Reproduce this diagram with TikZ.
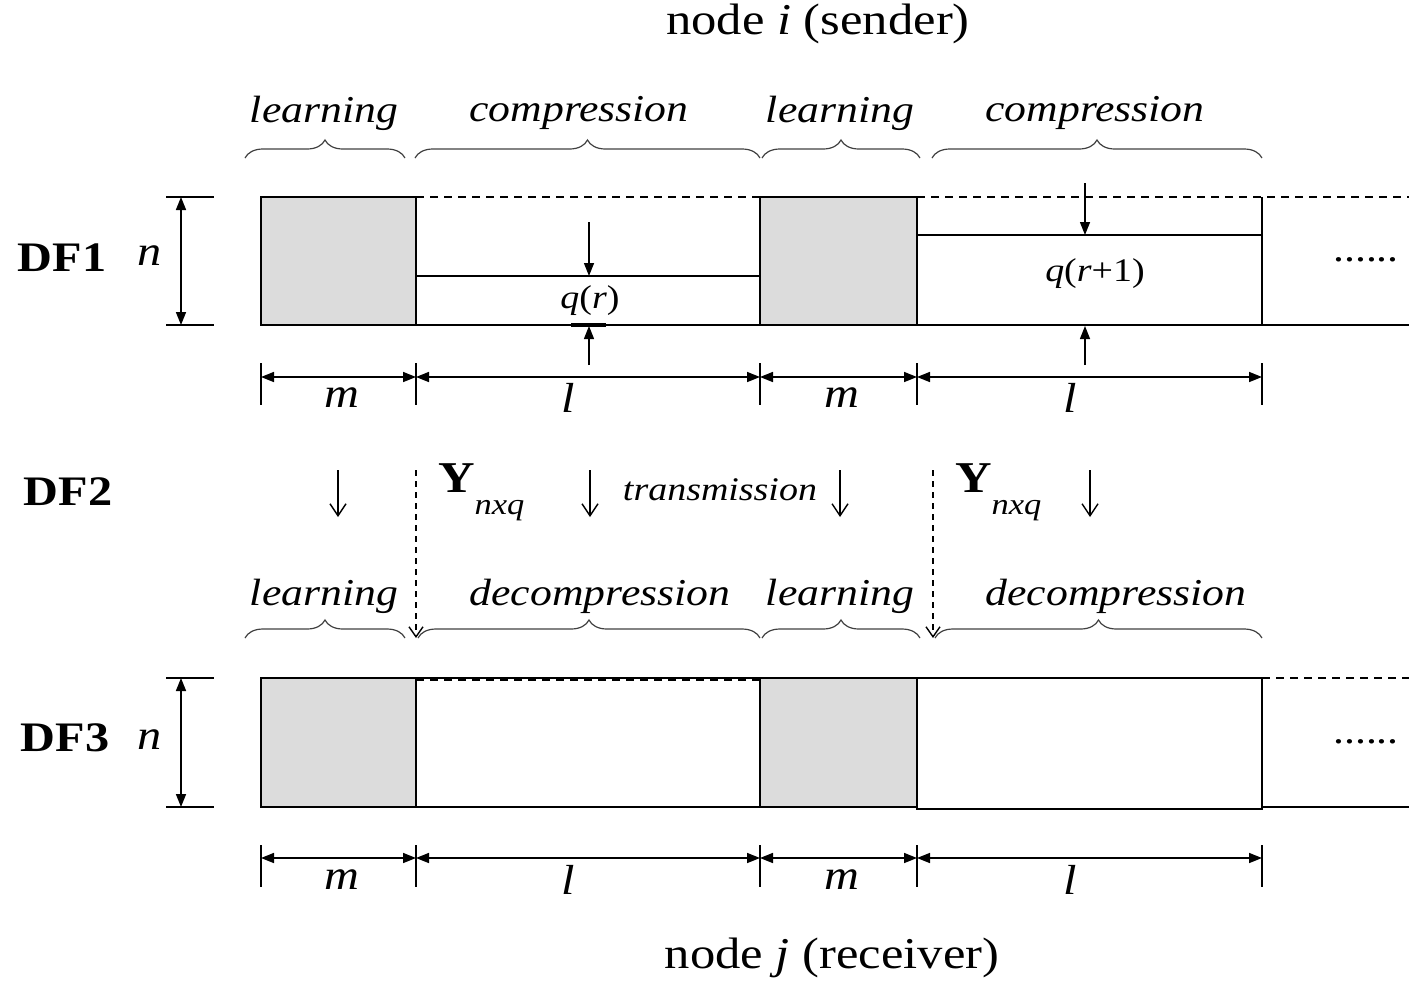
\documentclass[tikz,border=0pt]{standalone}
\usepackage{fontspec}
\setmainfont{Liberation Serif}[FakeStretch=1.15]
\usetikzlibrary{arrows.meta,decorations.pathreplacing}
\definecolor{boxgrey}{RGB}{220,220,220}
\newcommand\fsTitle{\fontsize{22}{26}\selectfont}
\newcommand\fsLab{\fontsize{19}{22}\selectfont}
\newcommand\fsDim{\fontsize{21}{24}\selectfont}
\newcommand\fsQ{\fontsize{16.5}{19}\selectfont}
\newcommand\fsSub{\fontsize{15}{17}\selectfont}
\begin{document}
\begin{tikzpicture}[x=0.5pt,y=-0.5pt,
  every node/.style={inner sep=0pt, outer sep=0pt},
  boxline/.style={line width=1pt},
  greybox/.style={boxline, fill=boxgrey},
  dashline/.style={line width=0.8pt, dash pattern=on 4pt off 3pt},
  tickline/.style={line width=0.8pt},
  dimarrow/.style={line width=0.8pt, {Triangle[length=6.5pt,width=5pt]}-{Triangle[length=6.5pt,width=5pt]}},
  qarrow/.style={line width=0.7pt, -{Triangle[length=6.5pt,width=5pt]}},
  flow/.style={line width=0.7pt, -{Straight Barb[length=6pt,width=8pt]}},
  dashflow/.style={line width=0.7pt, dash pattern=on 3pt off 2.5pt, -{Straight Barb[length=5pt,width=7pt]}},
  brc/.style={decorate, decoration={brace, amplitude=9pt}, line width=0.6pt, draw=black!75},
  lbl/.style={font=\fsLab\itshape},
  dimlbl/.style={font=\fsDim\itshape},
  rowlbl/.style={font=\fsDim\bfseries}
]
\useasboundingbox (0,0) rectangle (1409,981);

% titles
\node (title) at (818,24) {\fsTitle node \textit{i} (sender)};
\node (btitle) at (832,958) {\fsTitle node \textit{j} (receiver)};

% row 1 labels and braces
\node[lbl] (l1) at (324,113) {learning};
\node[lbl] (c1) at (579,113) {compression};
\node[lbl] (l2) at (840,113) {learning};
\node[lbl] (c2) at (1095,113) {compression};
\coordinate (b1a) at (245,158); \coordinate (b1b) at (405,158);
\coordinate (b2a) at (415,158); \coordinate (b2b) at (760,158);
\coordinate (b3a) at (762,158); \coordinate (b3b) at (920,158);
\coordinate (b4a) at (932,158); \coordinate (b4b) at (1262,158);
\draw[brc] (b1a) -- (b1b);
\draw[brc] (b2a) -- (b2b);
\draw[brc] (b3a) -- (b3b);
\draw[brc] (b4a) -- (b4b);

% DF1 row
\node[rowlbl] (df1) at (62,258) {DF1};
\node[dimlbl] (n1) at (150,256) {n};
\draw[tickline] (166,197) -- (214,197);
\draw[tickline] (166,325) -- (214,325);
\coordinate (n1t) at (181,197); \coordinate (n1b) at (181,325);
\draw[dimarrow] (n1t) -- (n1b);

\draw[greybox] (261,197) rectangle (416,325);
\draw[dashline] (416,197) -- (760,197);
\draw[boxline] (416,276) rectangle (760,325);
\draw[greybox] (760,197) rectangle (917,325);
\draw[boxline] (917,235) rectangle (1262,325);
\draw[boxline] (1262,197) -- (1262,235);
\draw[dashline] (917,197) -- (1409,197);
\draw[boxline] (1262,325) -- (1409,325);
\node (dots1) at (1366,260) {\fsLab ......};

% q(r)
\node (qr) at (590,301) {\fsQ\textit{q}(\textit{r})};
\coordinate (qra) at (589,222); \coordinate (qrb) at (589,276);
\coordinate (qrc) at (589,365); \coordinate (qrd) at (589,326);
\draw[qarrow] (qra) -- (qrb);
\draw[qarrow] (qrc) -- (qrd);
\draw[line width=2pt] (571,325) -- (606,325);
% q(r+1)
\node (qr1) at (1095,274) {\fsQ\textit{q}(\textit{r}+1)};
\coordinate (qsa) at (1085,183); \coordinate (qsb) at (1085,235);
\coordinate (qsc) at (1085,365); \coordinate (qsd) at (1085,326);
\draw[qarrow] (qsa) -- (qsb);
\draw[qarrow] (qsc) -- (qsd);

% dimension row 1
\foreach \x in {261,416,760,1262} \draw[tickline] (\x,363) -- (\x,405);
\draw[line width=1.4pt] (917,363) -- (917,405);
\coordinate (d1a) at (261,377); \coordinate (d1b) at (416,377);
\coordinate (d1c) at (760,377); \coordinate (d1d) at (917,377);
\coordinate (d1e) at (1262,377);
\draw[dimarrow] (d1a) -- (d1b);
\draw[dimarrow] (d1b) -- (d1c);
\draw[dimarrow] (d1c) -- (d1d);
\draw[dimarrow] (d1d) -- (d1e);
\node[dimlbl] (m1) at (342,398) {m};
\node[dimlbl] (ll1) at (568,398) {l};
\node[dimlbl] (m2) at (842,398) {m};
\node[dimlbl] (ll2) at (1070,398) {l};

% DF2 row
\node[rowlbl] (df2) at (68,492) {DF2};
\foreach \x/\nm in {338/fa,590/fb,840/fc,1090/fd} {
  \coordinate (\nm s) at (\x,470); \coordinate (\nm e) at (\x,517);
  \draw[flow] (\nm s) -- (\nm e);
}
\coordinate (ds1) at (416,470); \coordinate (de1) at (416,638);
\coordinate (ds2) at (933,470); \coordinate (de2) at (933,638);
\draw[dashflow] (ds1) -- (de1);
\draw[dashflow] (ds2) -- (de2);
\node[anchor=west] (y1) at (438,492) {\fsTitle\textbf{Y}\raisebox{-1.1ex}{\fsSub\textit{nxq}}};
\node[anchor=west] (y2) at (955,492) {\fsTitle\textbf{Y}\raisebox{-1.1ex}{\fsSub\textit{nxq}}};
\node (tr) at (720,490) {\fsQ\itshape transmission};

% row 2 labels and braces
\node[lbl] (l3) at (324,596) {learning};
\node[lbl] (dc1) at (600,596) {decompression};
\node[lbl] (l4) at (840,596) {learning};
\node[lbl] (dc2) at (1116,596) {decompression};
\coordinate (e1a) at (245,638); \coordinate (e1b) at (405,638);
\coordinate (e2a) at (418,638); \coordinate (e2b) at (760,638);
\coordinate (e3a) at (762,638); \coordinate (e3b) at (920,638);
\coordinate (e4a) at (935,638); \coordinate (e4b) at (1262,638);
\draw[brc] (e1a) -- (e1b);
\draw[brc] (e2a) -- (e2b);
\draw[brc] (e3a) -- (e3b);
\draw[brc] (e4a) -- (e4b);

% DF3 row
\node[rowlbl] (df3) at (65,738) {DF3};
\node[dimlbl] (n3) at (150,740) {n};
\draw[tickline] (166,678) -- (214,678);
\draw[tickline] (166,807) -- (214,807);
\coordinate (n3t) at (181,678); \coordinate (n3b) at (181,807);
\draw[dimarrow] (n3t) -- (n3b);

\draw[greybox] (261,678) rectangle (416,807);
\draw[boxline] (416,678) rectangle (760,807);
\draw[dashline] (416,680) -- (760,680);
\draw[greybox] (760,678) rectangle (917,807);
\draw[boxline] (917,678) rectangle (1262,809);
\draw[dashline] (1262,678) -- (1409,678);
\draw[boxline] (1262,807) -- (1409,807);
\node (dots3) at (1366,742) {\fsLab ......};

% dimension row 2
\foreach \x in {261,416,760,1262} \draw[tickline] (\x,845) -- (\x,887);
\draw[line width=1.4pt] (917,845) -- (917,887);
\coordinate (d2a) at (261,858); \coordinate (d2b) at (416,858);
\coordinate (d2c) at (760,858); \coordinate (d2d) at (917,858);
\coordinate (d2e) at (1262,858);
\draw[dimarrow] (d2a) -- (d2b);
\draw[dimarrow] (d2b) -- (d2c);
\draw[dimarrow] (d2c) -- (d2d);
\draw[dimarrow] (d2d) -- (d2e);
\node[dimlbl] (m3) at (342,880) {m};
\node[dimlbl] (ll3) at (568,880) {l};
\node[dimlbl] (m4) at (842,880) {m};
\node[dimlbl] (ll4) at (1070,880) {l};
\end{tikzpicture}
\end{document}
